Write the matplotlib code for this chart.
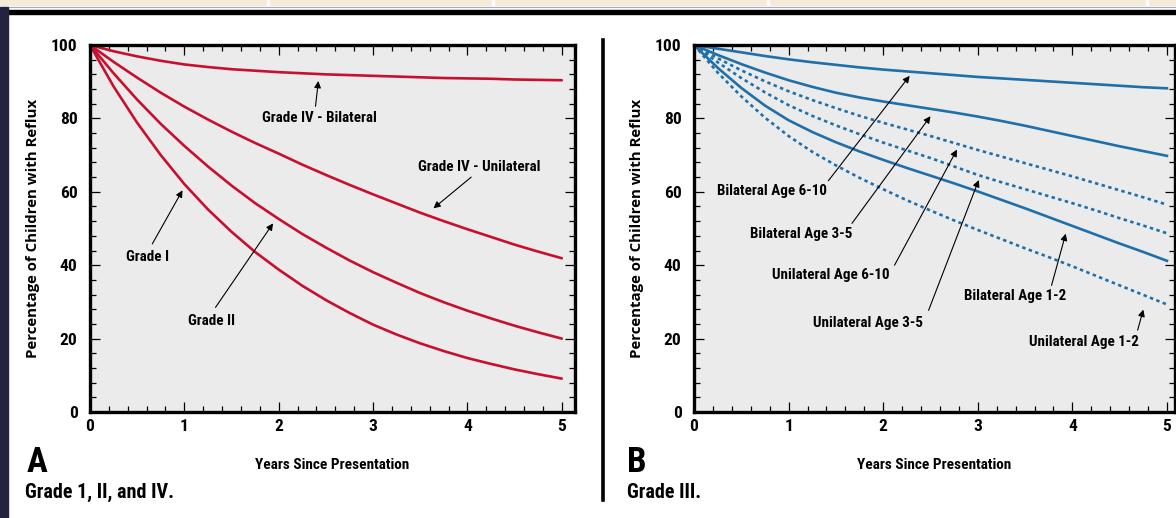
import matplotlib
matplotlib.use("Agg")
import matplotlib.pyplot as plt
from matplotlib import font_manager
from matplotlib.patches import Rectangle
from matplotlib.lines import Line2D

# ---------------- data ----------------
years = [0, 0.25, 0.5, 0.75, 1, 1.25, 1.5, 1.75, 2, 2.25, 2.5,
         2.75, 3, 3.25, 3.5, 3.75, 4, 4.25, 4.5, 4.75, 5]

grade_i = [100, 88.7, 78.8, 70.0, 62.1, 55.2, 49.1, 43.6, 38.8, 34.4, 30.5,
           27.0, 23.8, 21.1, 18.7, 16.6, 14.7, 13.1, 11.6, 10.3, 9.1]
grade_ii = [100, 92.3, 85.1, 78.5, 72.5, 66.9, 61.7, 56.9, 52.6, 48.5, 44.8,
            41.3, 38.1, 35.2, 32.4, 29.9, 27.6, 25.5, 23.5, 21.7, 20.0]
grade_iv_uni = [100, 95.4, 91.1, 87.0, 83.2, 79.7, 76.4, 73.3, 70.4, 67.4, 64.6,
                61.9, 59.3, 56.8, 54.3, 52.0, 49.8, 47.7, 45.6, 43.7, 41.9]
grade_iv_bil = [100, 98.3, 96.9, 95.7, 94.7, 94.0, 93.4, 93.0, 92.6, 92.3, 92.0,
                91.8, 91.6, 91.4, 91.2, 91.0, 90.9, 90.8, 90.6, 90.5, 90.4]

bil_6_10 = [100, 99.0, 98.0, 97.0, 96.1, 95.3, 94.6, 93.9, 93.3, 92.8, 92.3,
            91.8, 91.3, 90.9, 90.5, 90.1, 89.7, 89.3, 88.9, 88.5, 88.2]
bil_3_5 = [100, 97.3, 94.8, 92.5, 90.4, 88.6, 87.0, 85.7, 84.6, 83.6, 82.6,
           81.6, 80.5, 79.3, 78.0, 76.6, 75.2, 73.8, 72.4, 71.1, 69.8]
uni_6_10 = [100, 96.4, 93.1, 90.1, 87.4, 85.0, 82.8, 80.7, 78.8, 77.0, 75.2,
            73.3, 71.4, 69.6, 67.8, 66.0, 64.2, 62.3, 60.4, 58.5, 56.5]
uni_3_5 = [100, 95.3, 91.0, 87.1, 83.6, 80.7, 78.1, 75.7, 73.4, 71.3, 69.2,
           66.9, 64.6, 62.6, 60.7, 58.8, 56.9, 54.9, 52.8, 50.8, 48.7]
bil_1_2 = [100, 93.8, 88.3, 83.5, 79.5, 76.3, 73.5, 71.0, 68.7, 66.5, 64.4,
           62.3, 60.1, 57.8, 55.5, 53.1, 50.7, 48.3, 45.9, 43.6, 41.2]
uni_1_2 = [100, 92.5, 86.0, 80.2, 75.2, 70.9, 67.2, 63.8, 60.7, 57.7, 54.9,
           52.2, 49.6, 47.1, 44.6, 42.2, 39.7, 37.1, 34.5, 31.9, 29.3]

x_ticks = [0, 1, 2, 3, 4, 5]
y_ticks = [0, 20, 40, 60, 80, 100]

# ---------------- fonts ----------------
names = {f.name for f in font_manager.fontManager.ttflist}
cands = ["Liberation Sans Narrow", "DejaVu Sans Condensed", "Roboto Condensed",
         "Open Sans Condensed", "Noto Sans Display", "Liberation Sans"]
fam = next((c for c in cands if c in names), "DejaVu Sans")
plt.rcParams["font.family"] = [fam, "DejaVu Sans"]
plt.rcParams["font.weight"] = "bold"
ylab_fam = ["Open Sans", "DejaVu Sans"]

RED = "#c8102e"
BLUE = "#1f6fab"
BG = "#ebebeb"

fig = plt.figure(figsize=(11.76, 5.18), dpi=100)
fig.patch.set_facecolor("white")

W, H = 1176, 518


def px_axes(l, t, r, b):
    return fig.add_axes([l / W, 1 - b / H, (r - l) / W, (b - t) / H])


# decorative page elements
fig.add_artist(Rectangle((0, 1 - 5 / H), 1, 5 / H, transform=fig.transFigure,
                         color="#f5ebdb", zorder=0))
for sx in [267, 492, 767, 1146]:
    fig.add_artist(Rectangle((sx / W, 1 - 5 / H), 2 / W, 5 / H, transform=fig.transFigure,
                             color="white", zorder=1))
fig.add_artist(Line2D([0, 1], [1 - 6.5 / H] * 2, transform=fig.transFigure,
                      color="#a8a8c8", lw=0.8))
fig.add_artist(Rectangle((7 / W, 1 - 13.5 / H), 1, 3.5 / H, transform=fig.transFigure,
                         color="black", zorder=2))
fig.add_artist(Rectangle((0, 0), 8 / W, 1 - 7 / H, transform=fig.transFigure,
                         color="#24233f", zorder=2))
fig.add_artist(Line2D([603 / W] * 2, [1 - 40 / H, 1 - 500 / H], transform=fig.transFigure,
                      color="black", lw=2.6))


def style_axes(ax, xmax):
    ax.set_facecolor(BG)
    ax.set_xlim(0, xmax)
    ax.set_ylim(0, 100)
    ax.set_xticks(x_ticks)
    ax.set_yticks(y_ticks)
    ax.set_xticks([i / 5 for i in range(0, 26)], minor=True)
    ax.set_yticks(list(range(0, 101, 4)), minor=True)
    for s in ax.spines.values():
        s.set_linewidth(2.4)
    ax.tick_params(which="both", direction="in", top=True, right=True, width=0.9,
                   colors="black")
    ax.tick_params(which="major", length=7)
    ax.tick_params(which="minor", length=4)
    ax.tick_params(axis="y", which="major", pad=9, labelsize=12.5)
    ax.tick_params(axis="x", which="major", pad=5, labelsize=12.5)
    ax.set_xlabel("Years Since Presentation", fontsize=11, fontweight="bold", labelpad=17)
    ax.set_ylabel("Percentage of Children with Reflux", fontsize=10.8, fontweight="bold",
                  labelpad=8, family=ylab_fam)


def note(ax, text, tip, start, textpos):
    ax.text(textpos[0], textpos[1], text, fontsize=10.8, fontweight="bold",
            ha="center", va="center")
    ax.annotate("", xy=tip, xytext=start,
                arrowprops=dict(arrowstyle="-|>", lw=0.8, color="black",
                                mutation_scale=10, shrinkA=0, shrinkB=0))


# ---------------- panel A ----------------
axA = px_axes(90, 45, 575, 412)
style_axes(axA, 5.14)
for s in [grade_i, grade_ii, grade_iv_uni, grade_iv_bil]:
    axA.plot(years, s, color=RED, lw=1.9, solid_capstyle="round")
note(axA, "Grade IV - Bilateral", (2.42, 90.2), (2.39, 83.3), (2.43, 80.2))
note(axA, "Grade IV - Unilateral", (3.64, 55.5), (4.04, 64.0), (4.13, 66.8))
note(axA, "Grade I", (0.98, 60.4), (0.66, 45.8), (0.61, 42.3))
note(axA, "Grade II", (1.94, 51.4), (1.33, 28.5), (1.29, 24.7))

# ---------------- panel B ----------------
axB = px_axes(694, 45, 1175, 412)
style_axes(axB, 5.085)
for s in [bil_6_10, bil_3_5, bil_1_2]:
    axB.plot(years, s, color=BLUE, lw=1.9)
for s in [uni_6_10, uni_3_5, uni_1_2]:
    axB.plot(years, s, color=BLUE, lw=1.9, linestyle=(0, (1.3, 1.3)))
note(axB, "Bilateral Age 6-10", (2.28, 91.6), (1.42, 63.0), (0.82, 60.3))
note(axB, "Bilateral Age 3-5", (2.50, 80.6), (1.67, 51.4), (1.13, 48.5))
note(axB, "Unilateral Age 6-10", (2.78, 71.5), (2.12, 40.0), (1.45, 37.3))
note(axB, "Unilateral Age 3-5", (3.01, 63.2), (2.48, 27.7), (1.84, 24.3))
note(axB, "Bilateral Age 1-2", (3.93, 48.6), (3.78, 34.5), (3.39, 31.5))
note(axB, "Unilateral Age 1-2", (4.75, 27.9), (4.69, 22.3), (4.12, 19.1))

# ---------------- panel letters / captions ----------------
fig.text(27 / W, 1 - 462 / H, "A", fontsize=25, fontweight="bold", va="center", ha="left")
fig.text(25 / W, 1 - 492 / H, "Grade 1, II, and IV.", fontsize=14.5, fontweight="bold",
         va="center", ha="left")
fig.text(627 / W, 1 - 462 / H, "B", fontsize=25, fontweight="bold", va="center", ha="left")
fig.text(627 / W, 1 - 492 / H, "Grade III.", fontsize=14.5, fontweight="bold",
         va="center", ha="left")

fig.savefig("out.png", dpi=100, facecolor="white")
